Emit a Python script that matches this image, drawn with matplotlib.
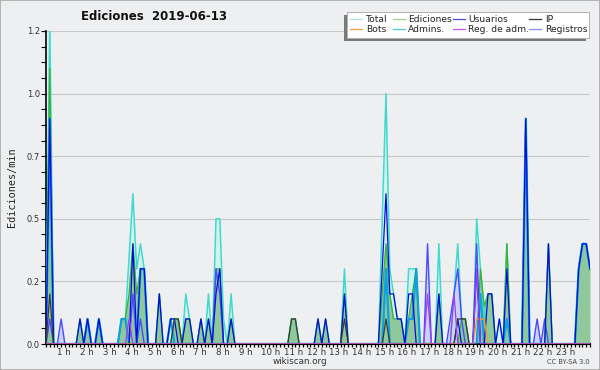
import matplotlib
matplotlib.use("Agg")
import matplotlib.pyplot as plt
import numpy as np
from matplotlib.lines import Line2D
from matplotlib.patches import Rectangle

# 10-minute steps from 00:00 to 24:00
N_BINS = 145

# (bin, edits/min); bins not listed are zero
total = [(1, 1.3), (9, 0.1), (11, 0.1), (14, 0.1), (20, 0.1), (21, 0.1), (22, 0.35),
         (23, 0.6), (24, 0.3), (25, 0.4), (26, 0.3), (30, 0.2), (33, 0.1), (34, 0.1),
         (35, 0.1), (37, 0.2), (38, 0.1), (41, 0.1), (43, 0.2), (45, 0.5), (46, 0.5),
         (47, 0.1), (49, 0.2), (65, 0.1), (66, 0.1), (72, 0.1), (74, 0.1), (79, 0.3),
         (89, 0.5), (90, 1.0), (91, 0.3), (92, 0.2), (93, 0.1), (94, 0.1), (96, 0.3),
         (97, 0.3), (98, 0.3), (104, 0.4), (108, 0.2), (109, 0.4), (110, 0.1), (111, 0.1),
         (114, 0.5), (115, 0.3), (116, 0.1), (117, 0.2), (118, 0.2), (120, 0.1),
         (122, 0.4), (127, 0.9), (133, 0.4), (141, 0.3), (142, 0.4), (143, 0.4), (144, 0.3)]
ediciones = [(1, 1.1), (9, 0.1), (11, 0.1), (14, 0.1), (20, 0.1), (21, 0.1), (22, 0.2),
             (23, 0.4), (24, 0.2), (25, 0.3), (26, 0.3), (30, 0.2), (34, 0.1), (35, 0.1),
             (37, 0.1), (38, 0.1), (41, 0.1), (43, 0.1), (45, 0.3), (46, 0.3), (49, 0.1),
             (65, 0.1), (66, 0.1), (72, 0.1), (74, 0.1), (79, 0.2), (89, 0.2), (90, 0.4),
             (91, 0.2), (92, 0.1), (93, 0.1), (94, 0.1), (96, 0.1), (97, 0.2), (98, 0.3),
             (104, 0.2), (110, 0.1), (111, 0.1), (115, 0.3), (116, 0.15), (117, 0.2),
             (118, 0.2), (122, 0.4), (127, 0.9), (133, 0.4), (141, 0.3), (142, 0.4),
             (143, 0.4), (144, 0.3)]
usuarios = [(1, 0.9), (9, 0.1), (11, 0.1), (14, 0.1), (23, 0.4), (25, 0.3), (26, 0.3),
            (30, 0.2), (33, 0.1), (34, 0.1), (37, 0.1), (38, 0.1), (41, 0.1), (43, 0.1),
            (45, 0.2), (46, 0.3), (49, 0.1), (72, 0.1), (74, 0.1), (79, 0.2), (89, 0.3),
            (90, 0.6), (91, 0.2), (92, 0.2), (93, 0.1), (94, 0.1), (96, 0.2), (97, 0.2),
            (104, 0.2), (109, 0.1), (114, 0.3), (117, 0.2), (118, 0.2), (120, 0.1),
            (122, 0.3), (127, 0.9), (133, 0.4), (141, 0.3), (142, 0.4), (143, 0.4), (144, 0.3)]
ip = [(1, 0.2), (34, 0.1), (35, 0.1), (65, 0.1), (66, 0.1), (79, 0.1), (90, 0.1),
      (109, 0.1), (110, 0.1), (111, 0.1)]
bots = [(114, 0.1), (115, 0.1), (116, 0.1)]
admins = [(1, 0.9), (11, 0.1), (14, 0.1), (20, 0.1), (21, 0.1), (25, 0.3), (26, 0.3),
          (33, 0.1), (90, 0.3), (96, 0.1), (97, 0.1), (98, 0.3), (115, 0.2), (122, 0.1),
          (127, 0.9), (141, 0.3), (142, 0.4), (143, 0.4), (144, 0.3)]
reg_adm = [(22, 0.1), (101, 0.2), (108, 0.2), (114, 0.3)]
registros = [(1, 0.1), (4, 0.1), (23, 0.2), (25, 0.1), (45, 0.3), (46, 0.2), (101, 0.4),
             (107, 0.1), (108, 0.2), (109, 0.3), (110, 0.1), (114, 0.4), (130, 0.1), (132, 0.1)]

legend_labels = ["Total", "Ediciones", "Usuarios", "IP",
                 "Bots", "Admins.", "Reg. de adm.", "Registros"]
legend_colors = ["#a3e6e3", "#8fd68f", "#4c4cdc", "#333333",
                 "#f5a140", "#4cc8e0", "#d050ea", "#8a8af0"]

hour_labels = [f"{h} h" for h in range(1, 24)]
y_ticks = [0.0, 0.25, 0.5, 0.75, 1.0, 1.25]
y_tick_labels = ["0.0", "0.2", "0.5", "0.7", "1.0", "1.2"]

BG = "#eeeff1"
W, H = 600, 370


def series(points):
    arr = np.zeros(N_BINS)
    for b, v in points:
        arr[b] = v
    return arr


def fx(x):
    return x / W


def fy(y):
    return 1 - y / H


fig = plt.figure(figsize=(6, 3.7), dpi=100, facecolor=BG)
ax = fig.add_axes([fx(46), fy(344), (590 - 46) / W, (344 - 31) / H])
ax.set_facecolor(BG)

x = np.arange(N_BINS)
s_total = series(total)
s_edit = series(ediciones)
s_reg = series(registros)

# fills
ax.fill_between(x, s_total, color="#d3f1ee", lw=0, zorder=1)
ax.fill_between(x, s_reg, color="#c9d3f3", lw=0, zorder=1.1)
ax.fill_between(x, s_edit, color="#8fc89b", lw=0, zorder=1.2)

# lines
ax.plot(x, s_total, color="#3fdacd", lw=1.1, zorder=3)
ax.plot(x, s_edit, color="#3bb33b", lw=1.0, zorder=3.1)
ax.plot(x, s_reg, color="#4a4aff", lw=1.0, zorder=3.2)
ax.plot(x, series(admins), color="#0ea2dc", lw=1.6, zorder=3.3)
ax.plot(x, series(usuarios), color="#0a0ae0", lw=0.9, zorder=3.4)
ax.plot(x, series(ip), color="#3a3a3a", lw=0.9, zorder=3.5)
ax.plot(x, series(bots), color="#ff9a1a", lw=0.9, zorder=3.6)
ax.plot(x, series(reg_adm), color="#a43cf0", lw=0.9, zorder=3.7)

ax.set_xlim(0, 144)
ax.set_ylim(0, 1.25)

for side in ["top", "right"]:
    ax.spines[side].set_visible(False)
ax.spines["left"].set_linewidth(1.2)
ax.spines["bottom"].set_linewidth(1.5)

ax.set_yticks(y_ticks)
ax.set_yticklabels(y_tick_labels, fontsize=6, color="#333333")
ax.set_yticks(np.arange(0, 1.26, 0.0625), minor=True)
ax.tick_params(axis="y", which="both", length=3.5, width=0.8, pad=1)
ax.grid(axis="y", which="major", color="#c8c8c8", lw=0.8)
ax.set_axisbelow(True)

ax.set_xticks(np.arange(0, 145, 1))
ax.set_xticklabels([])
ax.tick_params(axis="x", which="major", length=2.2, width=0.9)

trans = ax.get_xaxis_transform()
for h, lab in enumerate(hour_labels, start=1):
    ax.text(6 * h - 3, -0.012, lab, transform=trans, ha="left", va="top",
            fontsize=6.2, color="#333333")

fig.text(fx(154), fy(16), "Ediciones  2019-06-13", ha="center", va="center",
         fontsize=8.5, fontweight="bold", color="#111111")
fig.text(fx(12), fy(187), "Ediciones/min", rotation=90, ha="center", va="center",
         family="DejaVu Sans Mono", fontsize=7.3, color="#222222")
fig.text(fx(300), fy(361), "wikiscan.org", ha="center", va="center",
         fontsize=6.3, color="#333333")
fig.text(fx(590), fy(362), "CC BY-SA 3.0", ha="right", va="center",
         fontsize=4.8, color="#444444")

# legend box with shadow
fig.patches.append(Rectangle((fx(344), fy(41)), (589 - 347) / W, 26 / H,
                             transform=fig.transFigure, facecolor="#7a7a7a",
                             edgecolor="none", zorder=5))
fig.patches.append(Rectangle((fx(347), fy(38)), (589 - 347) / W, 26 / H,
                             transform=fig.transFigure, facecolor="white",
                             edgecolor="#b0b0b0", lw=0.7, zorder=6))
handle_x = [350, 393, 453, 529]
text_x = [366, 408, 468, 545]
rows_y = [19, 29]
for i, (lab, col) in enumerate(zip(legend_labels, legend_colors)):
    r, c = divmod(i, 4)
    fig.lines.append(Line2D([fx(handle_x[c]), fx(handle_x[c] + 12)],
                            [fy(rows_y[r]), fy(rows_y[r])],
                            transform=fig.transFigure, color=col, lw=0.9, zorder=7))
    fig.text(fx(text_x[c]), fy(rows_y[r]), lab, ha="left", va="center",
             fontsize=6.6, color="#222222", zorder=7)

# outer border
fig.patches.append(Rectangle((0, 0), 1, 1, transform=fig.transFigure,
                             facecolor="none", edgecolor="#a8a8a8", lw=1.2, zorder=10))

fig.savefig("out.png", dpi=100, facecolor=BG)
